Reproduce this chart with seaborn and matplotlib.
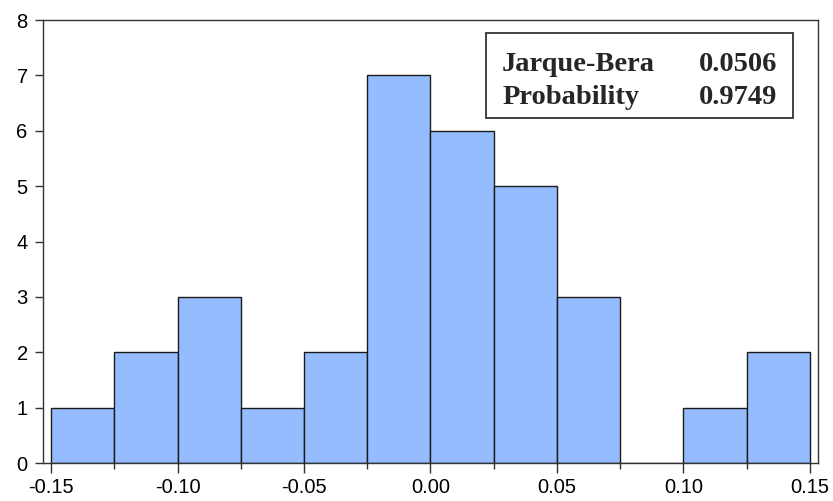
import numpy as np
import pandas as pd
import matplotlib
matplotlib.use("Agg")
import matplotlib.pyplot as plt
import seaborn as sns
from matplotlib.patches import Rectangle

# Data
bin_edges = [-0.15, -0.125, -0.10, -0.075, -0.05, -0.025, 0.0, 0.025, 0.05, 0.075, 0.10, 0.125, 0.15]
counts = [1, 2, 3, 1, 2, 7, 6, 5, 3, 0, 1, 2]
x_ticks = [-0.15, -0.10, -0.05, 0.00, 0.05, 0.10, 0.15]
x_tick_labels = ["-0.15", "-0.10", "-0.05", "0.00", "0.05", "0.10", "0.15"]
y_ticks = [0, 1, 2, 3, 4, 5, 6, 7, 8]
stat_names = ["Jarque-Bera", "Probability"]
stat_values = ["0.0506", "0.9749"]

centers = [(bin_edges[i] + bin_edges[i + 1]) / 2 for i in range(len(counts))]
df = pd.DataFrame({"x": centers, "w": counts})

sns.set_style("white")
plt.rcParams['font.family'] = ['Liberation Sans', 'DejaVu Sans']

fig = plt.figure(figsize=(8.33, 5.01), dpi=100)
ax = fig.add_axes([0.0516, 0.0758, 0.9304, 0.8842])

sns.histplot(data=df, x="x", weights="w", bins=bin_edges, ax=ax,
             color="#94BCFF", alpha=1.0, edgecolor="#1a1a1a", linewidth=1.0)

ax.set_xlim(-0.1532, 0.1532)
ax.set_ylim(0, 8)
ax.set_xlabel("")
ax.set_ylabel("")
ax.set_xticks(x_ticks)
ax.set_xticklabels(x_tick_labels)
ax.set_xticks(bin_edges, minor=True)
ax.set_yticks(y_ticks)
ax.tick_params(axis="x", which="major", direction="out", length=7, width=1,
               color="#333333", labelsize=14.5, labelcolor="black", pad=4, bottom=True)
ax.tick_params(axis="y", which="major", direction="out", length=6, width=1,
               color="#333333", labelsize=14.5, labelcolor="black", pad=5, left=True)
ax.tick_params(axis="x", which="minor", direction="out", length=4.5, width=1,
               color="#333333", bottom=True)
for s in ax.spines.values():
    s.set_color("#333333")
    s.set_linewidth(1.0)

# Statistics box
ax.add_patch(Rectangle((0.571, 0.779), 0.397, 0.192, transform=ax.transAxes,
                       fill=False, edgecolor="#333333", linewidth=1.3, zorder=5))
serif = ['Liberation Serif', 'DejaVu Serif']
ys = [0.9005, 0.8255]
for name, val, yy in zip(stat_names, stat_values, ys):
    ax.text(0.5925, yy, name, transform=ax.transAxes, fontsize=20.5,
            fontweight="bold", family=serif, va="center", ha="left", zorder=6)
    ax.text(0.9475, yy, val, transform=ax.transAxes, fontsize=20.5,
            fontweight="bold", family=serif, va="center", ha="right", zorder=6)

fig.savefig("out.png", dpi=100)
